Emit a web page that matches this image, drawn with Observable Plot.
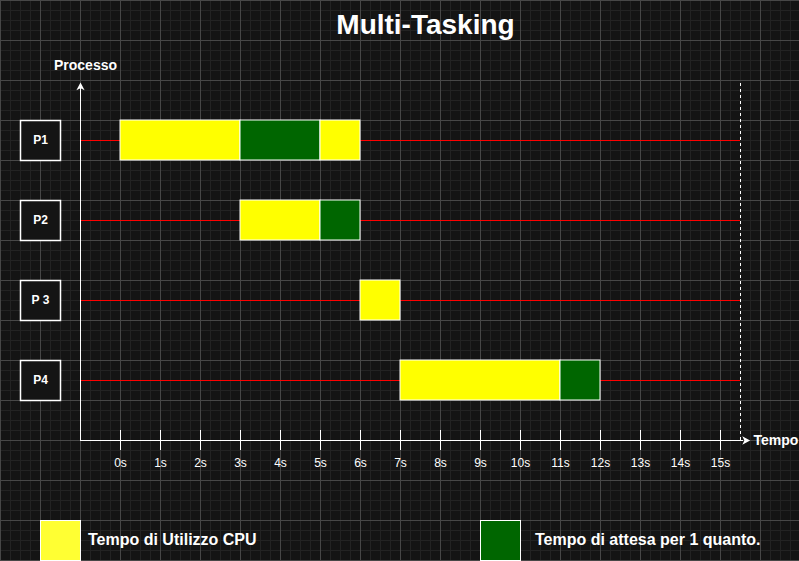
<!DOCTYPE html>
<html>
<head>
<meta charset="utf-8">
<script src="https://cdn.jsdelivr.net/npm/d3@7"></script>
<script src="https://cdn.jsdelivr.net/npm/@observablehq/plot@0.6"></script>
<style>
html, body { margin: 0; padding: 0; }
body {
  width: 799px; height: 561px; overflow: hidden; position: relative;
  background-color: #141414;
  background-image:
    linear-gradient(to right, #474747 1px, transparent 1px),
    linear-gradient(to bottom, #474747 1px, transparent 1px),
    linear-gradient(to right, #232323 1px, transparent 1px),
    linear-gradient(to bottom, #232323 1px, transparent 1px);
  background-size: 40px 40px, 40px 40px, 10px 10px, 10px 10px;
  font-family: "Liberation Sans", Arial, sans-serif;
  color: #fff;
}
#title {
  position: absolute; left: 0; top: 11px; width: 799px; box-sizing: border-box;
  padding-left: 52px; text-align: center;
  font-size: 28px; line-height: 28px; font-weight: bold;
}
#chart { position: absolute; left: 0; top: 50px; }
.sw { position: absolute; top: 520px; width: 41px; height: 41px; box-sizing: border-box; border: 1px solid #fff; }
.lt { position: absolute; top: 532px; font-size: 16px; line-height: 16px; font-weight: bold; white-space: nowrap; }
</style>
</head>
<body>
<div id="title">Multi-Tasking</div>
<div id="chart"></div>
<div id="legend"></div>
<script>
// ---- data ----
const processes = ["P1", "P2", "P 3", "P4"];
const segProcess = ["P1", "P1", "P1", "P2", "P2", "P 3", "P4", "P4"];
const segStart   = [0, 3, 5, 3, 5, 6, 7, 11];
const segEnd     = [3, 5, 6, 5, 6, 7, 11, 12];
const segKind    = ["cpu", "wait", "cpu", "cpu", "wait", "cpu", "cpu", "wait"];
const kinds = ["cpu", "wait"];
const kindLabels = ["Tempo di Utilizzo CPU", "Tempo di attesa per 1 quanto."];
const kindColors = ["#ffff00", "#006600"];
const legendColors = ["#ffff33", "#006600"];
const tickValues = [0, 1, 2, 3, 4, 5, 6, 7, 8, 9, 10, 11, 12, 13, 14, 15];
const tickLabels = ["0s","1s","2s","3s","4s","5s","6s","7s","8s","9s","10s","11s","12s","13s","14s","15s"];
const xLabel = "Tempo";
const yLabel = "Processo";

// axis extents (data units)
const timeMin = -1, timeMax = 15.5;
const rowMin = -0.75, rowMax = 3.75;

const segments = segProcess.map((p, i) => ({
  row: processes.indexOf(p), start: segStart[i], end: segEnd[i], kind: segKind[i]
}));
const rows = processes.map((p, i) => ({name: p, row: i}));

// notched arrow head symbol (points up)
const arrowHead = {
  draw(ctx, size) {
    const r = Math.sqrt(size / Math.PI);
    ctx.moveTo(0, -r);
    ctx.lineTo(r * 0.9, r * 0.7);
    ctx.lineTo(0, r * 0.25);
    ctx.lineTo(-r * 0.9, r * 0.7);
    ctx.closePath();
  }
};

const chart = Plot.plot({
  width: 799, height: 450,
  marginLeft: 80, marginRight: 59, marginTop: 30, marginBottom: 60,
  x: {domain: [timeMin, timeMax], axis: null},
  y: {domain: [rowMin, rowMax], reverse: true, axis: null},
  color: {domain: kinds, range: kindColors},
  style: {background: "transparent", color: "white", fontFamily: "'Liberation Sans', Arial, sans-serif", overflow: "visible"},
  marks: [
    // row lines
    Plot.ruleY(rows, {y: "row", stroke: "#ff0000", strokeWidth: 1.2}),
    // dashed end line
    Plot.ruleX([timeMax], {x: d => d, stroke: "white", strokeDasharray: "3,3", insetTop: 3}),
    // y axis
    Plot.ruleX([timeMin], {x: d => d, stroke: "white", insetTop: 8}),
    Plot.dot([timeMin], {x: d => d, frameAnchor: "top", symbol: arrowHead, r: 4.6, fill: "white", stroke: null, dy: 6.6}),
    // x axis
    Plot.ruleY([rowMax], {y: d => d, stroke: "white", insetRight: -3}),
    Plot.dot([timeMax], {x: d => d, y: () => rowMax, symbol: arrowHead, r: 4.6, fill: "white", stroke: null, rotate: 90, dx: 5}),
    Plot.ruleX(tickValues, {x: d => d, y1: () => rowMax, y2: () => rowMax, insetTop: -10, insetBottom: -10, stroke: "white"}),
    Plot.text(tickValues, {x: d => d, y: () => rowMax, text: (d, i) => tickLabels[i], dy: 23, fill: "white", fontSize: 12}),
    // bars
    Plot.rect(segments, {x1: "start", x2: "end", y1: "row", y2: "row", insetTop: -20, insetBottom: -20, fill: "kind", stroke: "white", strokeWidth: 1}),
    // process boxes
    Plot.dot(rows, {y: "row", frameAnchor: "left", dx: -40, symbol: "square", r: Math.sqrt(1600 / Math.PI), fill: "#141414", stroke: "white", strokeWidth: 1.5}),
    Plot.text(rows, {y: "row", frameAnchor: "left", dx: -40, text: "name", textAnchor: "middle", lineAnchor: "middle", fill: "white", fontSize: 12, fontWeight: "bold"}),
    // axis labels
    Plot.text([yLabel], {frameAnchor: "top-left", text: d => d, dx: 5, dy: -14.5, textAnchor: "middle", lineAnchor: "middle", fill: "white", fontSize: 14, fontWeight: "bold"}),
    Plot.text([xLabel], {frameAnchor: "bottom-right", text: d => d, dx: 13, textAnchor: "start", lineAnchor: "middle", fill: "white", fontSize: 14, fontWeight: "bold"})
  ]
});
document.getElementById("chart").appendChild(chart);

// legend
const legend = document.getElementById("legend");
const swLeft = [40, 480], txtLeft = [88, 535];
kinds.forEach((k, i) => {
  const sw = document.createElement("div");
  sw.className = "sw";
  sw.style.left = swLeft[i] + "px";
  sw.style.background = legendColors[i];
  legend.appendChild(sw);
  const t = document.createElement("div");
  t.className = "lt";
  t.style.left = txtLeft[i] + "px";
  t.textContent = kindLabels[i];
  legend.appendChild(t);
});
</script>
</body>
</html>
